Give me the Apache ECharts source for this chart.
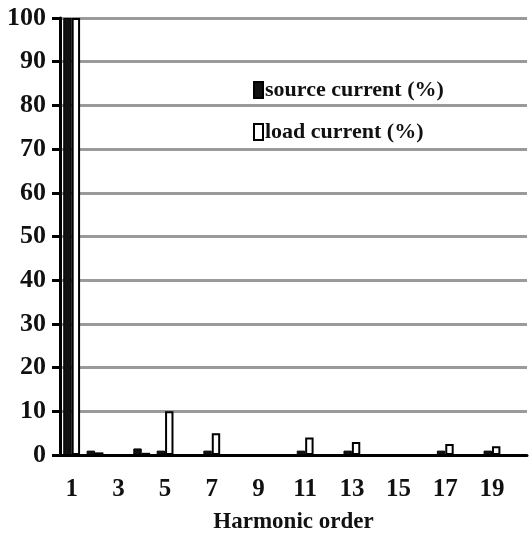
<!DOCTYPE html>
<html>
<head>
<meta charset="utf-8">
<script src="https://cdn.jsdelivr.net/npm/echarts@6/dist/echarts.min.js"></script>
<style>
  html, body { margin: 0; padding: 0; background: #fff; }
  #main { width: 532px; height: 542px; }
</style>
</head>
<body>
<div id="main"></div>
<script>
var harmonics = ['1', '2', '3', '4', '5', '6', '7', '8', '9', '10',
                 '11', '12', '13', '14', '15', '16', '17', '18', '19', '20'];
var sourceCurrent = [100, 1, 0, 1.5, 1, 0, 1, 0, 0, 0, 1, 0, 1, 0, 0, 0, 1, 0, 1, 0];
var loadCurrent = [100, 0.6, 0, 0.5, 10, 0, 5, 0, 0, 0, 4, 0, 3, 0, 0, 0, 2.5, 0, 2, 0];
var yTicks = { min: 0, max: 100, step: 10 };

var font = 'Liberation Serif, Times New Roman, serif';

var chart = echarts.init(document.getElementById('main'));

chart.setOption({
  animation: false,
  textStyle: { fontFamily: font },
  grid: { left: 60, right: 5, top: 18, bottom: 87 },
  legend: {
    orient: 'vertical',
    left: 248,
    top: 74,
    itemGap: 20,
    itemWidth: 9,
    itemHeight: 16,
    icon: 'rect',
    textStyle: { fontFamily: font, fontWeight: 'bold', fontSize: 22, color: '#111', padding: [0, 0, 0, -3] },
    data: ['source current (%)', 'load current (%)']
  },
  xAxis: {
    type: 'category',
    data: harmonics,
    name: 'Harmonic order',
    nameLocation: 'middle',
    nameGap: 56,
    nameTextStyle: { fontFamily: font, fontWeight: 'bold', fontSize: 23, color: '#111' },
    axisLine: { lineStyle: { color: '#000', width: 3 } },
    axisTick: { interval: 0, length: 10, lineStyle: { color: '#000', width: 3 } },
    axisLabel: { interval: 1, margin: 22, fontFamily: font, fontWeight: 'bold', fontSize: 25, color: '#111' }
  },
  yAxis: {
    type: 'value',
    min: yTicks.min,
    max: yTicks.max,
    interval: yTicks.step,
    axisLine: { show: true, lineStyle: { color: '#000', width: 3 } },
    axisTick: { show: true, length: 8, lineStyle: { color: '#000', width: 3 } },
    axisLabel: { margin: 14, fontFamily: font, fontWeight: 'bold', fontSize: 26, color: '#111' },
    splitLine: { lineStyle: { color: '#9a9a9a', width: 3 } }
  },
  series: [{
    name: 'source current (%)',
    type: 'bar',
    data: sourceCurrent,
    barGap: '0%',
    barCategoryGap: '28%',
    itemStyle: { color: '#111', borderColor: '#000', borderWidth: 1 }
  }, {
    name: 'load current (%)',
    type: 'bar',
    data: loadCurrent,
    itemStyle: { color: '#fff', borderColor: '#000', borderWidth: 2 }
  }]
});
</script>
</body>
</html>
